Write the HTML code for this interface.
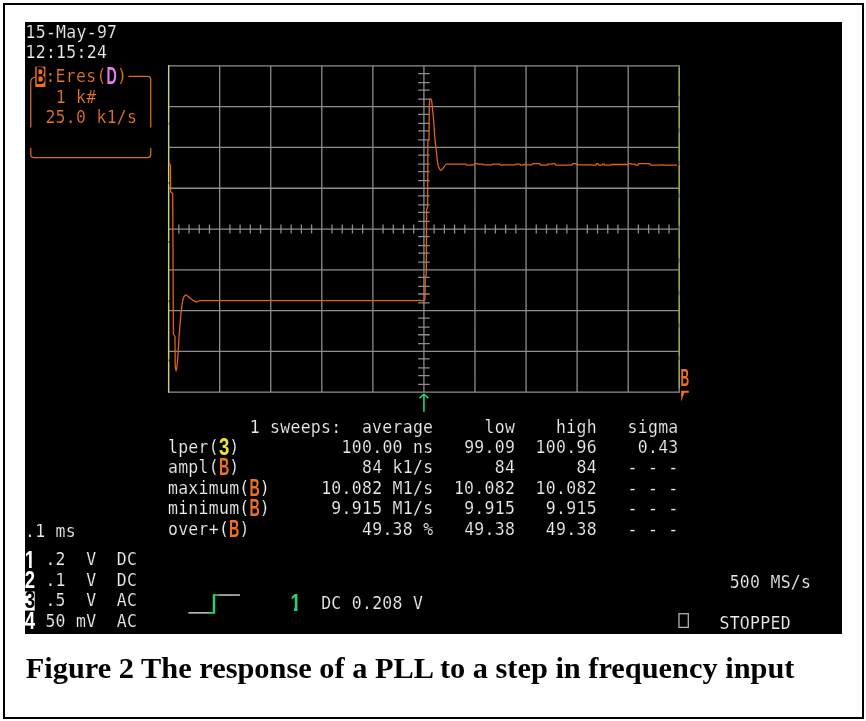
<!DOCTYPE html>
<html lang="en"><head><meta charset="utf-8"><title>Figure 2 The response of a PLL to a step in frequency input</title>
<style>
html,body{margin:0;padding:0;background:#fff;}
body{width:866px;height:721px;position:relative;overflow:hidden;}
.frame{position:absolute;left:3px;top:3px;width:857px;height:711.7px;border:2px solid #000;}
.scope{position:absolute;left:25px;top:22px;width:817px;height:611.5px;background:#000;}
svg{position:absolute;left:0;top:0;}
.cap{position:absolute;left:25.8px;top:649.7px;font:bold 30.36px "Liberation Serif",serif;color:#000;white-space:pre;line-height:36px;margin:0}
text{font-family:"DejaVu Sans Mono","Liberation Mono",monospace;font-size:12.900px;white-space:pre;letter-spacing:0.234px}
.w{fill:#ececec;stroke:#000;stroke-width:0.12px;paint-order:fill stroke}
.o{fill:#e87428;stroke:#000;stroke-width:0.14px;paint-order:fill stroke}
.b{font-family:"Liberation Sans","DejaVu Sans",sans-serif;font-weight:bold}
</style></head><body>
<div class="frame"></div>
<div class="scope"></div>

<svg width="866" height="721" viewBox="0 0 866 721">
<g transform="translate(25,22) scale(1.27656,1.27396)">
<path d="M112.5 34V291 M152.5 34V291 M192.5 34V291 M232.5 34V291 M272.5 34V291 M312.5 34V291 M352.5 34V291 M392.5 34V291 M432.5 34V291 M472.5 34V291 M512.5 34V291 M112 34.5H513 M112 66.5H513 M112 98.5H513 M112 130.5H513 M112 162.5H513 M112 194.5H513 M112 226.5H513 M112 258.5H513 M112 290.5H513 M120.5 159V166 M128.5 159V166 M136.5 159V166 M144.5 159V166 M160.5 159V166 M168.5 159V166 M176.5 159V166 M184.5 159V166 M200.5 159V166 M208.5 159V166 M216.5 159V166 M224.5 159V166 M240.5 159V166 M248.5 159V166 M256.5 159V166 M264.5 159V166 M280.5 159V166 M288.5 159V166 M296.5 159V166 M304.5 159V166 M320.5 159V166 M328.5 159V166 M336.5 159V166 M344.5 159V166 M360.5 159V166 M368.5 159V166 M376.5 159V166 M384.5 159V166 M400.5 159V166 M408.5 159V166 M416.5 159V166 M424.5 159V166 M440.5 159V166 M448.5 159V166 M456.5 159V166 M464.5 159V166 M480.5 159V166 M488.5 159V166 M496.5 159V166 M504.5 159V166 M308 40.5H317 M308 47.5H317 M308 53.5H317 M308 60.5H317 M308 72.5H317 M308 79.5H317 M308 85.5H317 M308 92.5H317 M308 104.5H317 M308 111.5H317 M308 117.5H317 M308 124.5H317 M308 136.5H317 M308 143.5H317 M308 149.5H317 M308 156.5H317 M308 168.5H317 M308 175.5H317 M308 181.5H317 M308 188.5H317 M308 200.5H317 M308 207.5H317 M308 213.5H317 M308 220.5H317 M308 232.5H317 M308 239.5H317 M308 245.5H317 M308 252.5H317 M308 264.5H317 M308 271.5H317 M308 277.5H317 M308 284.5H317" stroke="#8e8e8e" stroke-width="1" fill="none"/>
<path d="M112.5 34V291" stroke="#cfcf78" stroke-width="1" stroke-dasharray="45 1.5" fill="none"/>
<path d="M512.5 34V291" stroke="#a4a43c" stroke-width="1" stroke-dasharray="22 3.5" stroke-dashoffset="23.6" fill="none"/>
<path d="M113.12 111.15L113.98 112.64L114.13 133.44L115.70 134.62L116.25 244.91L117.50 246.87L117.66 270.02C117.78 270.68 118.13 273.95 118.36 273.95C118.60 273.95 118.82 272.14 119.07 270.02C119.32 267.91 119.57 265.30 119.85 261.23C120.14 257.16 120.47 250.34 120.79 245.61C121.12 240.89 121.49 236.49 121.81 232.90C122.14 229.30 122.40 226.64 122.75 224.03C123.10 221.41 123.44 218.82 123.93 217.20C124.41 215.57 125.09 214.65 125.65 214.29C126.21 213.94 126.72 214.67 127.29 215.08C127.87 215.48 128.39 216.18 129.10 216.73C129.80 217.28 130.72 217.89 131.53 218.37C132.33 218.86 133.29 219.47 133.95 219.63C134.62 219.79 135.02 219.47 135.52 219.32C136.02 219.16 136.28 218.79 136.93 218.69C137.58 218.58 139.02 218.69 139.44 218.69L139.44 218.69L307.86 218.69L308.64 218.30L309.42 218.92L310.21 218.69L312.56 218.69L313.34 217.83L313.58 200.16L314.36 198.59L314.59 147.18L315.38 145.22L315.61 93.80L316.47 91.84L316.71 65.94C316.78 65.10 316.91 61.85 317.10 60.91C317.30 59.97 317.65 60.17 317.88 60.28C318.12 60.40 318.29 60.32 318.51 61.62C318.73 62.91 318.94 65.35 319.22 68.06C319.49 70.76 319.83 73.79 320.16 77.87C320.48 81.95 320.85 88.79 321.18 92.55C321.50 96.30 321.80 97.62 322.12 100.40C322.43 103.17 322.73 106.91 323.06 109.19C323.38 111.46 323.62 112.84 324.07 114.05C324.53 115.27 325.14 116.49 325.80 116.49C326.45 116.49 327.30 114.85 327.99 114.05C328.68 113.26 329.26 112.10 329.95 111.70C330.64 111.29 331.78 111.63 332.14 111.62L334.49 111.62L337.63 111.62L338.10 111.62L345.46 111.62L345.93 112.33L349.38 112.33L349.85 112.09L351.73 112.09L352.20 111.23L354.86 111.23L355.33 111.62L358.78 111.62L359.25 112.09L360.34 112.09L365.83 112.09L366.30 111.62L369.74 111.62L370.21 111.62L372.09 111.62L372.56 112.33L374.44 112.33L374.91 112.09L376.01 112.09L376.48 112.09L383.84 112.09L384.31 111.62L387.76 111.62L388.23 112.33L390.11 112.33L390.58 111.86L391.68 111.86L392.15 112.09L394.03 112.09L394.50 112.09L397.16 112.09L397.63 111.23L401.08 111.23L403.43 111.23L403.90 112.33L408.91 112.33L409.38 111.62L412.83 111.62L413.30 111.23L415.18 111.23L415.65 112.33L419.09 112.33L420.66 112.33L421.13 112.33L428.49 112.33L428.96 111.23L431.63 111.23L432.10 111.86L433.19 111.86L433.66 112.09L441.03 112.09L443.38 112.09L443.85 112.33L447.29 112.33L447.76 111.23L448.86 111.23L449.33 112.33L452.00 112.33L452.47 111.62L453.56 111.62L454.03 112.33L459.05 112.33L459.52 111.86L466.88 111.86L467.35 111.86L470.01 111.86L472.36 111.86L472.83 111.23L474.71 111.23L475.18 111.62L477.85 111.62L478.32 112.33L480.20 112.33L480.67 111.23L483.33 111.23L486.46 111.23L486.93 111.23L489.60 111.23L490.07 112.33L497.43 112.33L497.90 112.09L499.78 112.09L500.25 112.33L505.26 112.33L507.61 112.33L508.08 112.33L509.96 112.33L510.43 112.33" stroke="#e4621a" stroke-width="1.0" fill="none" stroke-linejoin="round" stroke-linecap="round"/>
<text x="0.4" y="11.50" transform="scale(1,1.07)" class="w">15-May-97</text>
<text x="0.4" y="26.40" transform="scale(1,1.07)" class="w">12:15:24</text>
<path d="M8 43.3Q4.5 43.8 4.5 47.5V82.8M4.5 99V104Q4.5 106.4 7 106.4H96Q98.5 106.3 98.5 104V99M98.5 82.8V45.2Q98.5 42.7 96 42.7H81" stroke="#d46a28" stroke-width="1" fill="none"/>
<rect x="8" y="35" width="8" height="16" fill="#f07020"/>
<text x="8.5" y="48.75" class="b" style="letter-spacing:0;fill:#000;font-size:18.1px" textLength="7.6" lengthAdjust="spacingAndGlyphs">B</text>
<text x="16" y="44.02" transform="scale(1,1.07)" class="o">:Eres(</text>
<text x="63.9" y="48.75" class="b" style="letter-spacing:0;fill:#e47cf0;font-size:18.1px" textLength="8.1" lengthAdjust="spacingAndGlyphs">D</text>
<text x="72" y="44.02" transform="scale(1,1.07)" class="o">)</text>
<text x="24" y="59.13" transform="scale(1,1.07)" class="o">1 k#</text>
<text x="16" y="73.87" transform="scale(1,1.07)" class="o">25.0 k1/s</text>
<text x="176" y="301.21" transform="scale(1,1.07)" class="w">1 sweeps:  average</text>
<text x="360" y="301.21" transform="scale(1,1.07)" class="w">low</text>
<text x="416" y="301.21" transform="scale(1,1.07)" class="w">high</text>
<text x="472" y="301.21" transform="scale(1,1.07)" class="w">sigma</text>
<text x="112" y="316.17" transform="scale(1,1.07)" class="w">lper(</text>
<text x="151.9" y="339.95" class="b" style="letter-spacing:0;fill:#f0e428;font-size:18.1px" textLength="8.1" lengthAdjust="spacingAndGlyphs">3</text>
<text x="160" y="316.17" transform="scale(1,1.07)" class="w">)</text>
<text x="248" y="316.17" transform="scale(1,1.07)" class="w">100.00 ns</text>
<text x="344" y="316.17" transform="scale(1,1.07)" class="w">99.09</text>
<text x="400" y="316.17" transform="scale(1,1.07)" class="w">100.96</text>
<text x="480" y="316.17" transform="scale(1,1.07)" class="w">0.43</text>
<text x="112" y="331.12" transform="scale(1,1.07)" class="w">ampl(</text>
<text x="151.9" y="355.95" class="b" style="letter-spacing:0;fill:#f07020;font-size:18.1px" textLength="8.1" lengthAdjust="spacingAndGlyphs">B</text>
<text x="160" y="331.12" transform="scale(1,1.07)" class="w">)</text>
<text x="264" y="331.12" transform="scale(1,1.07)" class="w">84 k1/s</text>
<text x="368" y="331.12" transform="scale(1,1.07)" class="w">84</text>
<text x="432" y="331.12" transform="scale(1,1.07)" class="w">84</text>
<text x="472" y="331.12" transform="scale(1,1.07)" class="w">- - -</text>
<text x="112" y="346.07" transform="scale(1,1.07)" class="w">maximum(</text>
<text x="175.9" y="371.95" class="b" style="letter-spacing:0;fill:#f07020;font-size:18.1px" textLength="8.1" lengthAdjust="spacingAndGlyphs">B</text>
<text x="184" y="346.07" transform="scale(1,1.07)" class="w">)</text>
<text x="232" y="346.07" transform="scale(1,1.07)" class="w">10.082 M1/s</text>
<text x="336" y="346.07" transform="scale(1,1.07)" class="w">10.082</text>
<text x="400" y="346.07" transform="scale(1,1.07)" class="w">10.082</text>
<text x="472" y="346.07" transform="scale(1,1.07)" class="w">- - -</text>
<text x="112" y="361.03" transform="scale(1,1.07)" class="w">minimum(</text>
<text x="175.9" y="387.95" class="b" style="letter-spacing:0;fill:#f07020;font-size:18.1px" textLength="8.1" lengthAdjust="spacingAndGlyphs">B</text>
<text x="184" y="361.03" transform="scale(1,1.07)" class="w">)</text>
<text x="240" y="361.03" transform="scale(1,1.07)" class="w">9.915 M1/s</text>
<text x="344" y="361.03" transform="scale(1,1.07)" class="w">9.915</text>
<text x="408" y="361.03" transform="scale(1,1.07)" class="w">9.915</text>
<text x="472" y="361.03" transform="scale(1,1.07)" class="w">- - -</text>
<text x="112" y="376.03" transform="scale(1,1.07)" class="w">over+(</text>
<text x="159.9" y="404" class="b" style="letter-spacing:0;fill:#f07020;font-size:18.1px" textLength="8.1" lengthAdjust="spacingAndGlyphs">B</text>
<text x="168" y="376.03" transform="scale(1,1.07)" class="w">)</text>
<text x="264" y="376.03" transform="scale(1,1.07)" class="w">49.38 %</text>
<text x="344" y="376.03" transform="scale(1,1.07)" class="w">49.38</text>
<text x="408" y="376.03" transform="scale(1,1.07)" class="w">49.38</text>
<text x="472" y="376.03" transform="scale(1,1.07)" class="w">- - -</text>
<text x="0" y="377.94" transform="scale(1,1.07)" class="w">.1 ms</text>
<text x="16" y="398.69" transform="scale(1,1.07)" class="w">.2  V  DC</text>
<text x="16" y="413.64" transform="scale(1,1.07)" class="w">.1  V  DC</text>
<text x="16" y="428.60" transform="scale(1,1.07)" class="w">.5  V  AC</text>
<text x="16" y="443.64" transform="scale(1,1.07)" class="w">50 mV  AC</text>
<rect x="0" y="447" width="7.6" height="15" fill="#fff"/>
<text x="-0.1" y="428.25" class="b" style="letter-spacing:0;fill:#fff;font-size:19.3px" textLength="8.1" lengthAdjust="spacingAndGlyphs">1</text>
<path d="M0 425.8H3.13V429.6H0ZM5.3 425.8H8.6V429.6H5.3Z" fill="#000"/>
<text x="-0.1" y="444.25" class="b" style="letter-spacing:0;fill:#fff;font-size:18.1px" textLength="8.1" lengthAdjust="spacingAndGlyphs">2</text>
<text x="-0.1" y="460.25" class="b" style="letter-spacing:0;fill:#000;font-size:18.1px" textLength="8.1" lengthAdjust="spacingAndGlyphs">3</text>
<text x="-0.1" y="476.35" class="b" style="letter-spacing:0;fill:#fff;font-size:18.1px" textLength="8.1" lengthAdjust="spacingAndGlyphs">4</text>
<path d="M128 463.8H144.5" stroke="#c8c8c8" stroke-width="1.2" fill="none"/>
<path d="M151.5 449.8H168.4" stroke="#c8c8c8" stroke-width="1.2" fill="none"/>
<path d="M144 463.8H148.5M147.6 449.8H152" stroke="#22d477" stroke-width="1.2" fill="none"/>
<path d="M148.05 464.4V449.2" stroke="#22d477" stroke-width="1.9" fill="none"/>
<text x="207.9" y="462.1" class="b" style="letter-spacing:0;fill:#22d477;font-size:19.3px" textLength="8.1" lengthAdjust="spacingAndGlyphs">1</text>
<path d="M207.6 459.6H210.72V463.2H207.6ZM213.42 459.6H217V463.2H213.42Z" fill="#000"/>
<text x="232" y="430.42" transform="scale(1,1.07)" class="w">DC 0.208 V</text>
<text x="552" y="415.23" transform="scale(1,1.07)" class="w">500 MS/s</text>
<text x="544" y="445.28" transform="scale(1,1.07)" class="w">STOPPED</text>
<rect x="512.3" y="464.5" width="7.3" height="10.7" stroke="#b4b4b4" stroke-width="1" fill="none"/>
<path d="M312.5 306V292.3M309 295.3L312.5 292.2L316 295.3" stroke="#22d477" stroke-width="1.25" fill="none"/>
<text x="513.5" y="286.05" class="b" style="letter-spacing:0;fill:#f07020;font-size:18.1px" textLength="6.8" lengthAdjust="spacingAndGlyphs">B</text>
<path d="M514 289.5H520V291H516.5L514 298Z" fill="#f07020"/>
</g></svg>
<p class="cap">Figure 2 The response of a PLL to a step in frequency input</p>
</body></html>
